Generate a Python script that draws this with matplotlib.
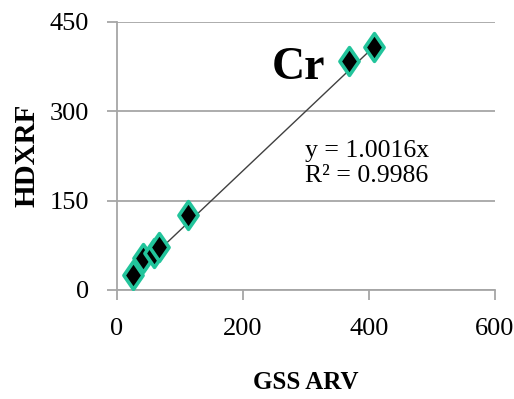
import matplotlib.pyplot as plt
import numpy as np
from matplotlib.path import Path

plt.rcParams['font.family'] = ['Liberation Serif', 'DejaVu Serif']

# GSS reference values vs measured HDXRF values for Cr
gss = [26, 42, 58, 67, 112, 368, 408]
hdxrf = [25, 53, 62, 73, 126, 384, 408]
slope = 1.0016
r2 = 0.9986
xticks = [0, 200, 400, 600]
yticks = [0, 150, 300, 450]

# tall diamond marker
diamond = Path([(0, 1.45), (1, 0), (0, -1.45), (-1, 0), (0, 1.45)],
               [Path.MOVETO, Path.LINETO, Path.LINETO, Path.LINETO, Path.CLOSEPOLY])

fig = plt.figure(figsize=(5.14, 3.99), dpi=100)
ax = fig.add_axes([0.2276, 0.2732, 0.7354, 0.6717])

ax.set_xlim(0, 600)
ax.set_ylim(0, 450)
ax.set_xticks(xticks)
ax.set_yticks(yticks)
ax.grid(axis='y', color='#a6a6a6', lw=1.3)
ax.set_axisbelow(True)
for sp in ['top', 'right']:
    ax.spines[sp].set_visible(False)
for sp in ['left', 'bottom']:
    ax.spines[sp].set_color('#a6a6a6')
    ax.spines[sp].set_linewidth(1.3)
ax.tick_params(direction='out', length=7, width=1.3, color='#a6a6a6',
               labelsize=19, pad=13)

# linear trend through the origin, over the data range
xt = np.array([min(gss), max(gss)])
ax.plot(xt, slope * xt, color='#404040', lw=1, zorder=2)
ax.plot(gss, hdxrf, ls='none', marker=diamond, ms=20, mfc='black',
        mec='#22c49b', mew=2.6, zorder=3)

ax.text(298, 212, 'y = %.4fx\nR² = %.4f' % (slope, r2), fontsize=18.5,
        ha='left', va='center', linespacing=1.2)
ax.text(246, 373, 'Cr', fontsize=33, fontweight='bold', ha='left', va='center')

ax.set_xlabel('GSS ARV', fontsize=18, fontweight='bold', va='center')
ax.xaxis.set_label_coords(0.5, -0.347)
ax.set_ylabel('HDXRF', fontsize=21, fontweight='bold', va='center')
ax.yaxis.set_label_coords(-0.237, 0.504)

fig.savefig('out.png', dpi=100)
